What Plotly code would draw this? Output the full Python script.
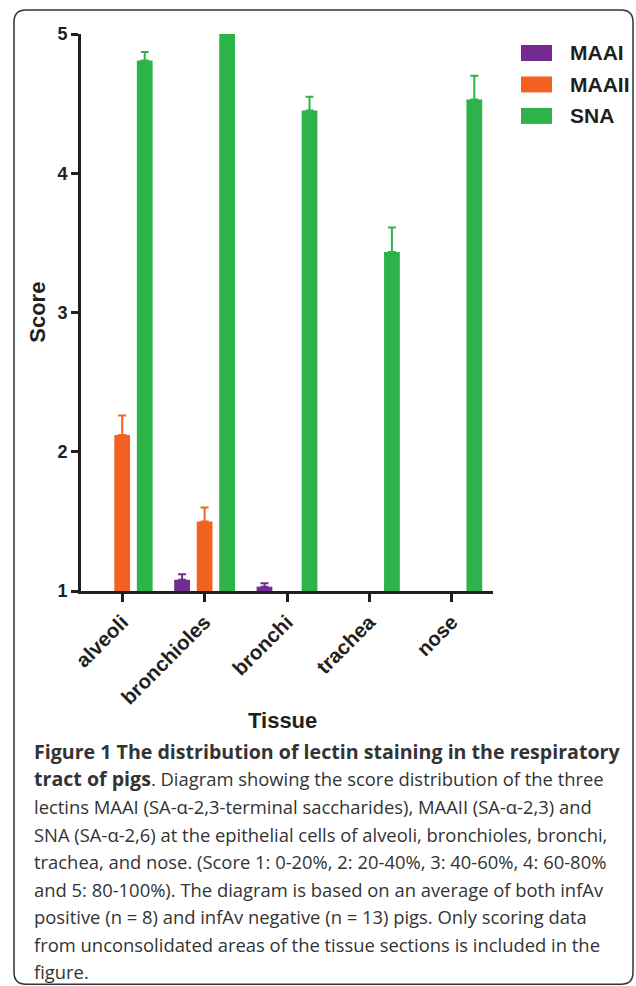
import numpy as np
import plotly.graph_objects as go

# ---- data ----
tissues = ["alveoli", "bronchioles", "bronchi", "trachea", "nose"]
series_names = ["MAAI", "MAAII", "SNA"]
maai = [1.0, 1.08, 1.03, 1.0, 1.0]
maai_err = [None, 0.04, 0.025, None, None]
maaii = [2.12, 1.50, 1.0, 1.0, 1.0]
maaii_err = [0.14, 0.10, None, None, None]
sna = [4.81, 5.0, 4.45, 3.435, 4.53]
sna_err = [0.06, None, 0.10, 0.175, 0.17]
y_ticks = [1, 2, 3, 4, 5]

BOLD = '<span style="font-size:19.6px"><b>{}</b></span>'
caption_lines = [
    BOLD.format("Figure 1 The distribution of lectin staining in the respiratory"),
    BOLD.format("tract of pigs") + ". Diagram showing the score distribution of the three",
    "lectins MAAI (SA-α-2,3-terminal saccharides), MAAII (SA-α-2,3) and",
    "SNA (SA-α-2,6) at the epithelial cells of alveoli, bronchioles, bronchi,",
    "trachea, and nose. (Score 1: 0-20%, 2: 20-40%, 3: 40-60%, 4: 60-80%",
    "and 5: 80-100%). The diagram is based on an average of both infAv",
    "positive (n = 8) and infAv negative (n = 13) pigs. Only scoring data",
    "from unconsolidated areas of the tissue sections is included in the",
    "figure.",
]

colors = ["#732A91", "#F26322", "#2DB34A"]
values = [maai, maaii, sna]
errors = [maai_err, maaii_err, sna_err]

W, H = 636, 986
L, R, T, B = 81, 143, 34, 394.5
PW = W - L - R
PH = H - T - B

def px(x):
    return (x - L) / PW

def py(y):
    return (H - B - y) / PH

dark = "#231F20"
FONT = "Arial, Liberation Sans, sans-serif"

fig = go.Figure()
for name, vals, errs, c in zip(series_names, values, errors, colors):
    up = np.array(errs, dtype=float)            # None -> NaN (no error bar drawn)
    down = np.where(np.isnan(up), np.nan, 0.0)
    fig.add_trace(go.Bar(
        x=tissues, y=vals, name=name,
        marker=dict(color=c, line=dict(width=0)),
        error_y=dict(type="data", symmetric=False, array=up, arrayminus=down,
                     color=c, thickness=2, width=4),
        showlegend=False, hoverinfo="skip",
    ))

fig.update_layout(
    width=W, height=H, autosize=False,
    margin=dict(l=L, r=R, t=T, b=B),
    paper_bgcolor="white", plot_bgcolor="white",
    barmode="group", bargap=0.18, bargroupgap=0.30,
    font=dict(family=FONT, color=dark),
)
fig.update_yaxes(
    range=[1, 5], tickvals=y_ticks, ticks="outside", ticklen=7, tickwidth=2.5,
    tickcolor=dark, showline=True, linewidth=3, linecolor=dark,
    showgrid=False, zeroline=False, layer="above traces",
    tickfont=dict(family=FONT, size=18, color=dark, weight="bold"),
)
fig.update_xaxes(
    range=[-0.5, 4.5], tickangle=-45, ticks="outside", ticklen=8, tickwidth=2.5,
    tickcolor=dark, showline=True, linewidth=3, linecolor=dark,
    showgrid=False, zeroline=False, layer="above traces",
    tickfont=dict(family=FONT, size=20.5, color=dark, weight="bold"),
)

ann = []
# axis titles
ann.append(dict(text="Score", x=px(38), y=py(313), xref="paper", yref="paper",
                textangle=-90, showarrow=False, xanchor="center", yanchor="middle",
                font=dict(family=FONT, size=22, color=dark, weight="bold")))
ann.append(dict(text="Tissue", x=px(282), y=py(721), xref="paper", yref="paper",
                showarrow=False, xanchor="center", yanchor="middle",
                font=dict(family=FONT, size=22, color=dark, weight="bold")))

shapes = []
# legend
leg_y = [53, 84.5, 116]
for name, c, yc in zip(series_names, colors, leg_y):
    shapes.append(dict(type="rect", xref="paper", yref="paper",
                       x0=px(521), x1=px(552), y0=py(yc - 8), y1=py(yc + 8),
                       fillcolor=c, line=dict(width=0)))
    ann.append(dict(text=name, x=px(568), y=py(yc), xref="paper", yref="paper",
                    showarrow=False, xanchor="left", yanchor="middle",
                    font=dict(family=FONT, size=21, color=dark, weight="bold")))

# caption
for i, line in enumerate(caption_lines):
    ann.append(dict(text=line, x=px(32), y=py(752 + 27.6 * i), xref="paper", yref="paper",
                    showarrow=False, xanchor="left", yanchor="middle",
                    font=dict(family="Open Sans, sans-serif", size=18.4, color="#333333")))

# rounded frame
x0, x1, y0, y1, r = 14, 633, 10, 985, 12
def P(x, y):
    return f"{px(x)},{py(y)}"
path = (f"M {P(x0, y0 + r)} Q {P(x0, y0)} {P(x0 + r, y0)} L {P(x1 - r, y0)} "
        f"Q {P(x1, y0)} {P(x1, y0 + r)} L {P(x1, y1 - r)} Q {P(x1, y1)} {P(x1 - r, y1)} "
        f"L {P(x0 + r, y1)} Q {P(x0, y1)} {P(x0, y1 - r)} Z")
shapes.append(dict(type="path", xref="paper", yref="paper", path=path,
                   line=dict(color="#333333", width=1.5), fillcolor="rgba(0,0,0,0)"))

fig.update_layout(annotations=ann, shapes=shapes)
fig.write_html("out.html", config={"displayModeBar": False},
               post_script="document.body.style.margin='0px';document.body.style.padding='0px';")
